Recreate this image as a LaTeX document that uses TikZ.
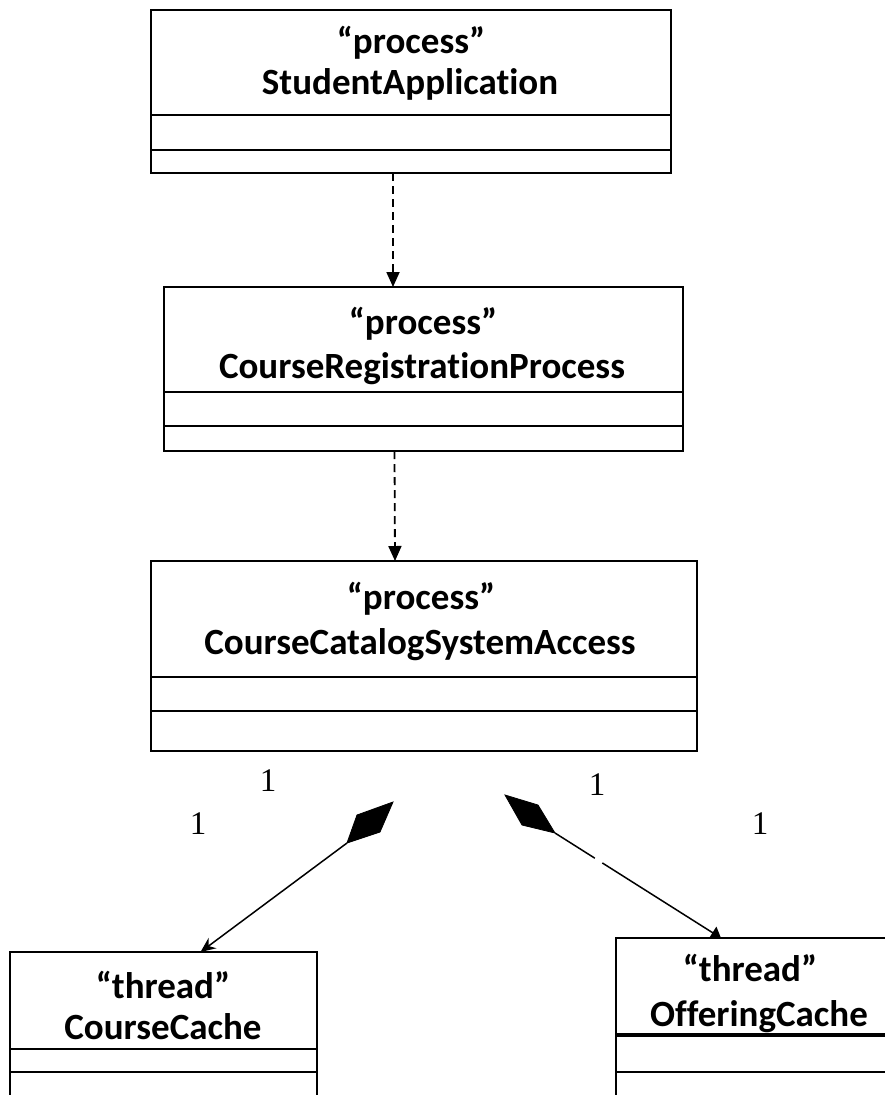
\documentclass[tikz,border=0pt]{standalone}
\usepackage{fontspec}
\setmainfont{Liberation Serif}
\newfontfamily\titlefont[Ligatures=NoCommon]{Carlito}
\usetikzlibrary{arrows.meta,calc}

\tikzset{
  classbox/.style={draw, line width=2.6pt, inner sep=0pt, outer sep=0pt},
  divider/.style={line width=2.6pt},
  title/.style={anchor=base, inner sep=0pt, font=\titlefont\bfseries\fontsize{37}{40}\selectfont},
  mult/.style={anchor=base, inner sep=0pt, font=\fontsize{33}{35}\selectfont},
  depend/.style={line width=1.8pt, dash pattern=on 8pt off 5pt,
    -{Triangle[length=15pt,width=13pt]}},
  assocl/.style={line width=1.5pt, -{Stealth[length=15pt,width=13pt,inset=5pt]}},
  assocr/.style={line width=1.5pt, -{Triangle[length=10pt,width=14pt]}},
  compo/.style={fill=black, draw=black, line width=0.8pt, line join=miter},
}

\begin{document}
\begin{tikzpicture}[x=1pt,y=-1pt]
\clip (0,0) rectangle (885,1095);

% ---- class boxes
\node[classbox, minimum width=520pt, minimum height=163pt] (b1) at (411,91.5) {};
\node[classbox, minimum width=519pt, minimum height=164pt] (b2) at (423.5,369) {};
\node[classbox, minimum width=546pt, minimum height=190pt] (b3) at (424,656) {};
\node[classbox, minimum width=307pt, minimum height=168pt] (b4) at (163.5,1036) {};
\node[draw, line width=2pt, inner sep=0pt, outer sep=0pt,
      minimum width=284pt, minimum height=182pt] (b5) at (758,1029) {};

% ---- compartment dividers
\draw[divider] (b1.west |- 0,115) -- (b1.east |- 0,115);
\draw[divider] (b1.west |- 0,150) -- (b1.east |- 0,150);
\draw[divider] (b2.west |- 0,392) -- (b2.east |- 0,392);
\draw[divider] (b2.west |- 0,426) -- (b2.east |- 0,426);
\draw[divider] (b3.west |- 0,677) -- (b3.east |- 0,677);
\draw[divider] (b3.west |- 0,711) -- (b3.east |- 0,711);
\draw[divider] (b4.west |- 0,1049) -- (b4.east |- 0,1049);
\draw[divider] (b4.west |- 0,1072) -- (b4.east |- 0,1072);
\draw[line width=3.5pt] (b5.west |- 0,1035) -- (b5.east |- 0,1035);
\draw[line width=2pt] (b5.west |- 0,1072) -- (b5.east |- 0,1072);

% ---- titles
\node[title] (t1a) at (411,53) {“process”};
\node[title] (t1b) at (410,94) {StudentApplication};
\node[title] (t2a) at (423,334) {“process”};
\node[title] (t2b) at (422,378) {CourseRegistrationProcess};
\node[title] (t3a) at (421,609) {“process”};
\node[title] (t3b) at (420,654) {CourseCatalogSystemAccess};
\node[title] (t4a) at (163,998) {“thread”};
\node[title] (t4b) at (163,1039) {CourseCache};
\node[title] (t5a) at (750,981) {“thread”};
\node[title] (t5b) at (759,1026) {OfferingCache};

% ---- dependencies
\draw[depend] ([xshift=-18pt]b1.south) -- ([xshift=-30.5pt]b2.north);
\draw[depend] ([xshift=-29pt]b2.south) -- ([xshift=-29pt]b3.north);

% ---- composition diamonds
\coordinate (dl) at (347,843);
\coordinate (dr) at (555,833);
\draw[compo] (393,802) -- (357,815) -- (dl) -- (380,832) -- cycle;
\draw[compo] (505,795) -- (538,805) -- (dr) -- (522,825) -- cycle;

% ---- associations
\draw[assocl] (dl) -- ([xshift=37pt]b4.north);
\coordinate (tr) at ([xshift=-37pt]b5.north);
\draw[line width=1.5pt] (dr) -- ($(dr)!0.24!(tr)$);
\draw[assocr] ($(dr)!0.285!(tr)$) -- (tr);

% ---- multiplicities
\node[mult] (m1) at (268,791) {1};
\node[mult] (m2) at (198,834) {1};
\node[mult] (m3) at (597,795) {1};
\node[mult] (m4) at (760,834) {1};
\end{tikzpicture}
\end{document}
